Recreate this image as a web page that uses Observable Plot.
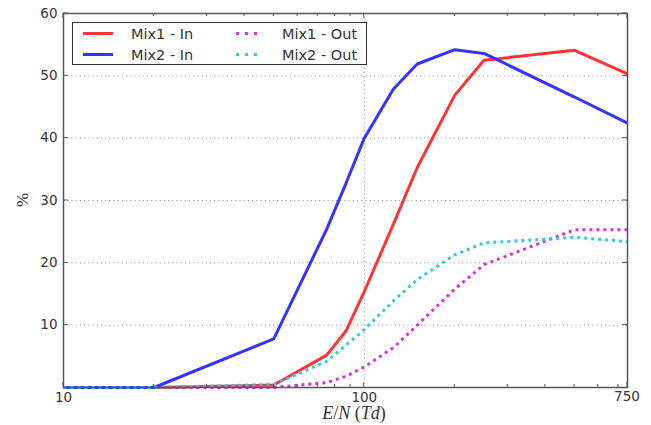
<!DOCTYPE html>
<html>
<head>
<meta charset="utf-8">
<script src="https://cdn.jsdelivr.net/npm/d3@7"></script>
<script src="https://cdn.jsdelivr.net/npm/@observablehq/plot@0.6"></script>
<style>
  html, body { margin: 0; padding: 0; background: #fff; }
  #chart svg { display: block; }
</style>
</head>
<body>
<div id="chart"></div>
<script>
// ---- data ----
const energies = [10, 20, 50, 75, 87, 100, 125, 150, 200, 250, 500, 750];
const mix1In  = [0, 0, 0.4, 5.2, 9.1, 15.4, 26.2, 35.3, 46.9, 52.5, 54.1, 50.3];
const mix2In  = [0, 0, 7.8, 25.4, 32.8, 40.0, 47.9, 51.9, 54.2, 53.6, 46.6, 42.4];
const mix1Out = [0, 0, 0, 0.8, 1.8, 3.3, 6.4, 10.0, 15.8, 19.7, 25.3, 25.3];
const mix2Out = [0, 0, 0.5, 4.2, 6.8, 9.3, 13.9, 17.3, 21.3, 23.2, 24.1, 23.4];

const seriesNames = ["Mix1 - In", "Mix2 - In", "Mix1 - Out", "Mix2 - Out"];
const seriesValues = [mix1In, mix2In, mix1Out, mix2Out];
const seriesColors = ["#ff3333", "#3333ff", "#d633d6", "#33cccc"];
const seriesDashed = [false, false, true, true];

const xTicks = [10, 100, 750];
const xMinorTicks = [20, 30, 40, 50, 60, 70, 80, 90, 200, 300, 400, 500, 600, 700];
const yTicks = [10, 20, 30, 40, 50, 60];
const yGrid = [10, 20, 30, 40, 50];
const xGrid = [100];

const rows = [];
seriesNames.forEach((name, i) => {
  energies.forEach((e, j) => rows.push({series: name, x: e, y: seriesValues[i][j]}));
});

const W = 651, H = 425;
const mL = 63, mR = 24, mT = 13, mB = 38;
const txt = "#333";
const font = "DejaVu Sans, sans-serif";

const marks = [
  Plot.gridY(yGrid, {stroke: "#9a9a9a", strokeOpacity: 1, strokeWidth: 1, strokeDasharray: "1.2,3"}),
  Plot.gridX(xGrid, {stroke: "#9a9a9a", strokeOpacity: 1, strokeWidth: 1, strokeDasharray: "1.2,3"}),
];
seriesNames.forEach((name, i) => {
  marks.push(Plot.line(rows.filter(d => d.series === name), {
    x: "x", y: "y",
    stroke: seriesColors[i],
    strokeWidth: 3,
    strokeDasharray: seriesDashed[i] ? "3,4" : null,
    strokeLinejoin: "miter",
    strokeLinecap: "butt"
  }));
});
marks.push(
  Plot.frame({stroke: "#555", strokeWidth: 1.5}),
  Plot.axisX(xTicks, {tickSize: 0, tickPadding: 4.5, tickFormat: d => String(d), fontSize: 13.5, fill: txt, label: null}),
  Plot.axisY(yTicks, {tickSize: 0, tickPadding: 6, tickFormat: d => String(d), fontSize: 13.5, fill: txt, label: null})
);

const chart = Plot.plot({
  width: W, height: H,
  marginLeft: mL, marginRight: mR, marginTop: mT, marginBottom: mB,
  style: {fontFamily: font, background: "#fff", color: txt},
  x: {type: "log", domain: [10, 750]},
  y: {domain: [0, 60]},
  marks
});

document.getElementById("chart").appendChild(chart);

// ---- inward ticks, axis labels and legend ----
const svg = d3.select(chart);
const xs = chart.scale("x"), ys = chart.scale("y");
const x0 = mL, x1 = W - mR, y0 = H - mB, y1 = mT;
const tg = svg.append("g").attr("stroke", "#555").attr("stroke-width", 1);
xTicks.forEach(v => {
  const px = xs.apply(v);
  tg.append("line").attr("x1", px).attr("x2", px).attr("y1", y0).attr("y2", y0 - 5);
  tg.append("line").attr("x1", px).attr("x2", px).attr("y1", y1).attr("y2", y1 + 5);
});
xMinorTicks.forEach(v => {
  const px = xs.apply(v);
  tg.append("line").attr("x1", px).attr("x2", px).attr("y1", y0).attr("y2", y0 - 3);
  tg.append("line").attr("x1", px).attr("x2", px).attr("y1", y1).attr("y2", y1 + 3);
});
yTicks.forEach(v => {
  const py = ys.apply(v);
  tg.append("line").attr("x1", x0).attr("x2", x0 + 5).attr("y1", py).attr("y2", py);
  tg.append("line").attr("x1", x1).attr("x2", x1 - 5).attr("y1", py).attr("y2", py);
});

// last x tick label if the axis dropped it at the domain edge
const haveLast = svg.selectAll("text").nodes().some(n => n.textContent === String(xTicks[xTicks.length - 1]));
if (!haveLast) {
  const v = xTicks[xTicks.length - 1];
  svg.append("text").attr("x", xs.apply(v)).attr("y", y0 + 4.5).attr("dy", "0.71em")
    .attr("text-anchor", "middle").attr("font-family", font).attr("font-size", 13.5)
    .attr("fill", txt).text(String(v));
}

// x label (mathtext-like)
const xl = svg.append("text")
  .attr("x", 354).attr("y", 419)
  .attr("text-anchor", "middle")
  .attr("font-family", "Liberation Serif, serif")
  .attr("font-size", 18).attr("fill", txt);
xl.append("tspan").attr("font-style", "italic").text("E");
xl.append("tspan").text("/");
xl.append("tspan").attr("font-style", "italic").text("N");
xl.append("tspan").text(" (");
xl.append("tspan").attr("font-style", "italic").text("Td");
xl.append("tspan").text(")");

// y label
svg.append("text")
  .attr("transform", `translate(28,${(y0 + y1) / 2}) rotate(-90)`)
  .attr("text-anchor", "middle")
  .attr("font-family", "Liberation Serif, serif")
  .attr("font-size", 17).attr("fill", txt)
  .text("%");

// legend
const lg = svg.append("g").attr("text-anchor", "start");
lg.append("rect").attr("x", 72.5).attr("y", 22.5).attr("width", 294).attr("height", 42)
  .attr("fill", "#fff").attr("stroke", "#333").attr("stroke-width", 1);
const legendPos = [
  {lx: 83, tx: 131, y: 33.5},
  {lx: 83, tx: 131, y: 54.5},
  {lx: 236, tx: 282, y: 33.5},
  {lx: 236, tx: 282, y: 54.5}
];
seriesNames.forEach((name, i) => {
  const p = legendPos[i];
  const len = seriesDashed[i] ? 22 : 30;
  lg.append("line").attr("x1", p.lx).attr("x2", p.lx + len).attr("y1", p.y).attr("y2", p.y)
    .attr("stroke", seriesColors[i]).attr("stroke-width", 3)
    .attr("stroke-dasharray", seriesDashed[i] ? "3,6" : null);
  lg.append("text").attr("x", p.tx).attr("y", p.y + 5.5)
    .attr("text-anchor", "start")
    .attr("font-family", font).attr("font-size", 14.5).attr("fill", txt)
    .text(name);
});
</script>
</body>
</html>
